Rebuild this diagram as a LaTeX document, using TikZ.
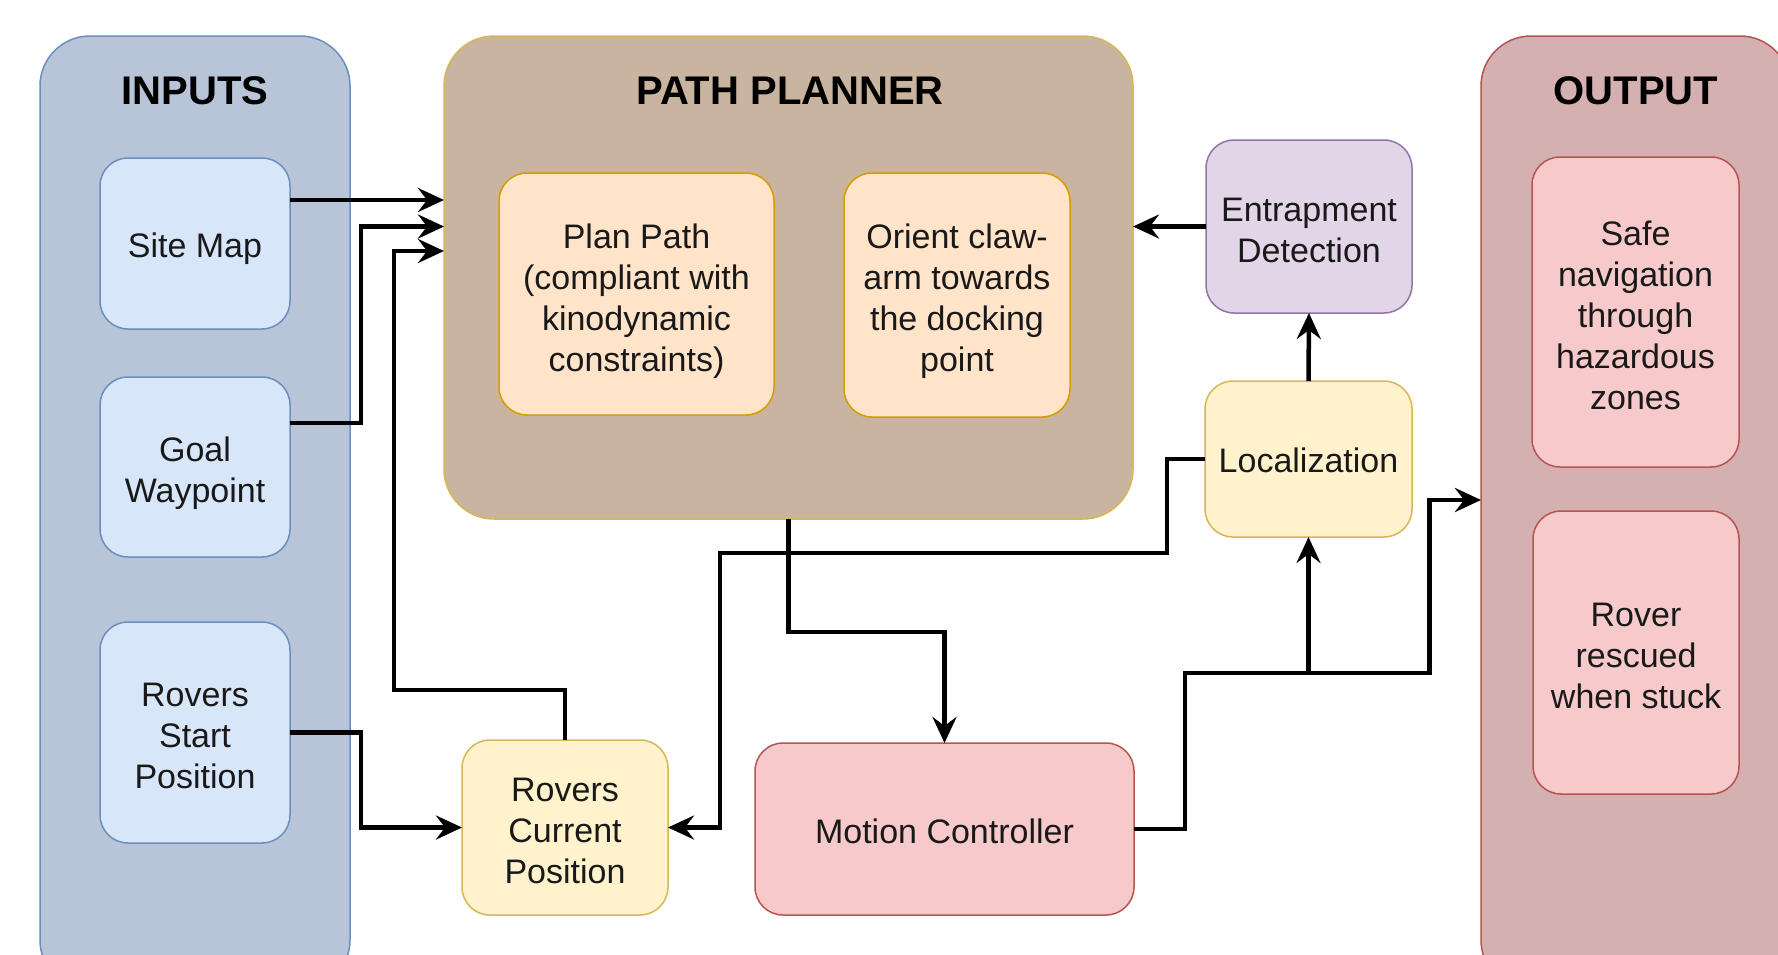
\documentclass[tikz,border=0pt]{standalone}
\usepackage{fontspec}
\setmainfont{Liberation Sans}
\usetikzlibrary{arrows.meta,calc}
\definecolor{inbg}{HTML}{B8C5D9}
\definecolor{inbox}{HTML}{D8E6FA}
\definecolor{blueline}{HTML}{6C8EBF}
\definecolor{ppbg}{HTML}{C9B49F}
\definecolor{ppline}{HTML}{D6B656}
\definecolor{orbox}{HTML}{FFE4CA}
\definecolor{orline}{HTML}{D79B00}
\definecolor{outbg}{HTML}{D4B0B0}
\definecolor{redbox}{HTML}{F6CACA}
\definecolor{redline}{HTML}{B85450}
\definecolor{purbox}{HTML}{E1D5E7}
\definecolor{purline}{HTML}{9673A6}
\definecolor{yelbox}{HTML}{FFF2CC}
\tikzset{
  container/.style={draw, line width=1.5pt, rounded corners=50pt, inner sep=0pt, outer sep=0pt},
  boxstyle/.style={draw, line width=1.5pt, rounded corners=28pt, inner sep=0pt, outer sep=0pt},
  bluebox/.style={boxstyle, fill=inbox, draw=blueline},
  orangebox/.style={boxstyle, fill=orbox, draw=orline},
  pinkbox/.style={boxstyle, fill=redbox, draw=redline},
  purplebox/.style={boxstyle, fill=purbox, draw=purline},
  yellowbox/.style={boxstyle, fill=yelbox, draw=ppline},
  txt/.style={align=center, inner sep=0pt, font=\fontsize{34}{41}\selectfont, text=black!90},
  title/.style={font=\fontsize{40}{48}\selectfont\bfseries, text=black},
  arr/.style={line width=4.5pt, -{Stealth[length=26pt,width=24pt,inset=9pt]}}
}
\begin{document}
\begin{tikzpicture}[x=1pt,y=-1pt]
\clip (0,0) rectangle (1778,954);
\fill[white] (0,0) rectangle (1778,954);
% containers
\node[container, fill=inbg, draw=blueline, minimum width=310pt, minimum height=954pt] (inputs) at (195,513) {};
\node[title] (inputstitle) at (195,91) {INPUTS};
\node[container, fill=ppbg, draw=ppline, minimum width=689pt, minimum height=483pt] (pp) at (788.5,277.5) {};
\node[title] (pptitle) at (790,91) {PATH PLANNER};
\node[container, fill=outbg, draw=redline, minimum width=309pt, minimum height=954pt] (output) at (1635.5,513) {};
\node[title] (outtitle) at (1636,91) {OUTPUT};
% inputs
\node[bluebox, minimum width=190pt, minimum height=171pt] (site) at (195,243.5) {};
\node[txt] (siteT) at ([yshift=-5pt]site.center) {Site Map};
\node[bluebox, minimum width=190pt, minimum height=180pt] (goal) at (195,467) {};
\node[txt] (goalT) at ([yshift=-6pt]goal.center) {Goal\\Waypoint};
\node[bluebox, minimum width=190pt, minimum height=221pt] (start) at (195,732.5) {};
\node[txt] (startT) at ([yshift=-3pt]start.center) {Rovers\\Start\\Position};
% planner
\node[orangebox, minimum width=275pt, minimum height=242pt] (plan) at (636.5,294) {};
\node[txt] (planT) at ([yshift=-7pt]plan.center) {Plan Path\\(compliant with\\kinodynamic\\constraints)};
\node[orangebox, minimum width=226pt, minimum height=244pt] (orient) at (957,295) {};
\node[txt] (orientT) at ([yshift=-6pt]orient.center) {Orient claw-\\arm towards\\the docking\\point};
% right middle
\node[purplebox, minimum width=206pt, minimum height=173pt] (ent) at (1309,226.5) {};
\node[txt] (entT) at ([yshift=-3.5pt]ent.center) {Entrapment\\Detection};
\node[yellowbox, minimum width=207pt, minimum height=156pt] (loc) at (1308.5,459) {};
\node[txt] (locT) at ([yshift=-1pt]loc.center) {Localization};
% bottom
\node[yellowbox, minimum width=206pt, minimum height=175pt] (cur) at (565,827.5) {};
\node[txt] (curT) at ([yshift=-3pt]cur.center) {Rovers\\Current\\Position};
\node[pinkbox, minimum width=379pt, minimum height=172pt] (mc) at (944.5,829) {};
\node[txt] (mcT) at ([yshift=-2pt]mc.center) {Motion Controller};
% outputs
\node[pinkbox, minimum width=207pt, minimum height=310pt] (safe) at (1635.5,312) {};
\node[txt] (safeT) at ([yshift=-3pt]safe.center) {Safe\\navigation\\through\\hazardous\\zones};
\node[pinkbox, minimum width=206pt, minimum height=283pt] (rescue) at (1636,652.5) {};
\node[txt] (rescueT) at ([yshift=-3.5pt]rescue.center) {Rover\\rescued\\when stuck};
% helper coordinates
\coordinate (ppin1) at ([yshift=77.5pt]pp.west);
\coordinate (ppin2) at ([yshift=51pt]pp.west);
\coordinate (ppin3) at ([yshift=26.5pt]pp.west);
\coordinate (siteout) at (site.east |- ppin1);
\coordinate (goalout) at ([yshift=44pt]goal.east);
\coordinate (junc) at ($(loc.south)+(0,136)$);
\coordinate (outin) at ([yshift=13pt]output.west);
% connectors
\draw[arr] (siteout) -- (ppin1);
\draw[arr] (goalout) -- ++(71,0) |- (ppin2);
\draw[arr] (cur.north) -- ++(0,-50) -| ($(ppin3)+(-50,0)$) -- (ppin3);
\draw[arr] (start.east) -- ++(71,0) |- (cur.west);
\draw[arr] (loc.west) -- ++(-38,0) -- ++(0,94) -| ($(cur.east)+(52,0)$) -- (cur.east);
\draw[arr] (pp.south) -- ++(0,113) -| (mc.north);
\draw[arr] (mc.east) -- ++(51,0) |- (junc) -- ++(121,0) |- (outin);
\draw[arr] (junc) -- (loc.south);
\draw[arr] (loc.north) -- (ent.south);
\draw[arr] (ent.west) -- (ent.west -| pp.east);
\end{tikzpicture}
\end{document}
